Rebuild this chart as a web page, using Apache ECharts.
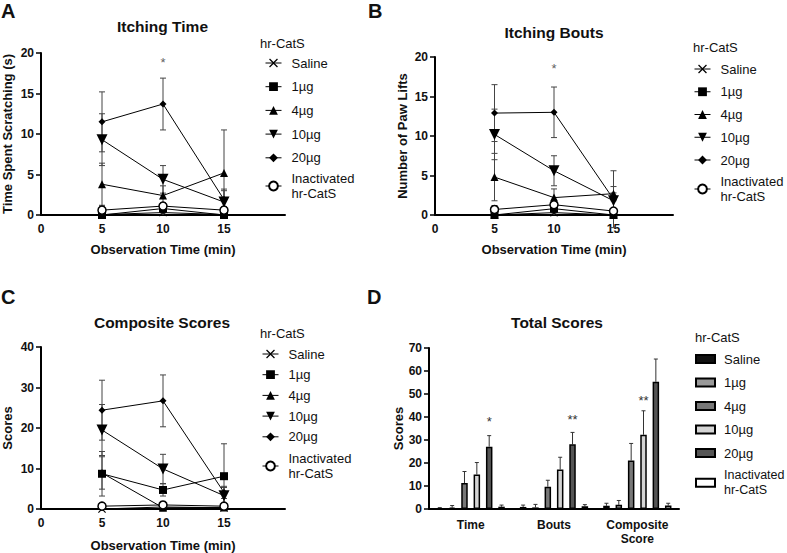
<!DOCTYPE html>
<html>
<head>
<meta charset="utf-8">
<title>hr-CatS itch scores</title>
<script src="https://cdn.jsdelivr.net/npm/echarts@6/dist/echarts.min.js"></script>
<style>
  html, body { margin: 0; padding: 0; background: #fff; }
  #chart { width: 787px; height: 553px; }
</style>
</head>
<body>
<div id="chart"></div>
<script>
// observation time points (min) and groups
const times = [5, 10, 15]
const groups = ['Saline', '1µg', '4µg', '10µg', '20µg', 'Inactivated hr-CatS']

// A - itching time (s), one row per group
const timeMeans = [
  [0.05, 0.3, 0.05],
  [0, 0.8, 0],
  [3.8, 2.4, 5.2],
  [9.3, 4.4, 1.6],
  [11.5, 13.7, 1.9],
  [0.6, 1.1, 0.6]
]
const timeSems = [
  [0.05, 0.2, 0.05],
  [0, 0.5, 0],
  [2.6, 1.2, 5.3],
  [3.2, 1.7, 1.4],
  [3.7, 3.2, 1.3],
  [0.5, 0.4, 0.4]
]

// B - itching bouts (paw lifts)
const boutMeans = [
  [0, 0.3, 0],
  [0, 0.8, 0],
  [4.8, 2.2, 2.7],
  [10.2, 5.6, 1.8],
  [12.9, 13.0, 2.0],
  [0.7, 1.3, 0.5]
]
const boutSems = [
  [0, 0.2, 0],
  [0, 0.4, 0],
  [3.0, 1.1, 0.9],
  [3.2, 1.9, 1.0],
  [3.6, 3.2, 3.6],
  [0.5, 0.4, 0.3]
]

// C - composite scores
const compMeans = [
  [0, 0.5, 0.3],
  [8.7, 4.7, 8.1],
  [8.9, 0.3, 0.4],
  [19.5, 9.9, 3.3],
  [24.4, 26.7, 4.1],
  [0.7, 1.0, 0.7]
]
const compSems = [
  [0, 0.3, 0.2],
  [5.5, 1.5, 8.0],
  [4.0, 0.3, 0.3],
  [6.3, 3.6, 2.0],
  [7.4, 6.4, 1.5],
  [0.4, 0.5, 0.4]
]

// D - total scores, one row per group: [Time, Bouts, Composite]
const totalCats = ['Time', 'Bouts', 'Composite\nScore']
const totalMeans = [
  [0.3, 0.9, 1.4],
  [0.6, 0.7, 1.8],
  [11.3, 9.7, 21.1],
  [15.0, 17.2, 32.3],
  [27.1, 28.1, 55.3],
  [1.0, 1.2, 1.5]
]
const totalErrs = [
  [0.3, 0.8, 1.1],
  [0.9, 1.3, 1.9],
  [5.0, 2.8, 7.4],
  [5.2, 5.3, 10.4],
  [4.8, 5.2, 9.9],
  [0.7, 0.7, 1.0]
]

// significance marks
const sigTime = [[10, 18.8]]
const sigBouts = [[10, 18.5]]
const sigTotal = [[0, 4, 38.2, '*'], [1, 4, 39, '**'], [2, 3, 47.2, '**']]

const FONT = 'Liberation Sans, Arial, sans-serif'
const INK = '#111'
const MARK = [
  { symbol: 'path://M0,1L1,0L5,4L9,0L10,1L6,5L10,9L9,10L5,6L1,10L0,9L4,5Z', size: 8, rotate: 0, fill: '#000' },
  { symbol: 'rect', size: 8, rotate: 0, fill: '#000' },
  { symbol: 'triangle', size: 8, rotate: 0, fill: '#000' },
  { symbol: 'triangle', size: 11, rotate: 180, fill: '#000' },
  { symbol: 'diamond', size: 7, rotate: 0, fill: '#000' },
  { symbol: 'circle', size: 8, rotate: 0, fill: '#fff' }
]
const barColors = ['#111', '#999', '#777', '#d4d4d4', '#555', '#fff']
const BAR_W = 6.5
const SLOT = BAR_W * 1.9

const chart = echarts.init(document.getElementById('chart'), null, { renderer: 'svg' })

function lineSeries(means, idx) {
  return means.map((row, g) => ({
    type: 'line',
    name: groups[g],
    xAxisIndex: idx,
    yAxisIndex: idx,
    data: times.map((t, i) => [t, row[i]]),
    symbol: MARK[g].symbol,
    symbolSize: MARK[g].size,
    symbolRotate: MARK[g].rotate,
    showAllSymbol: true,
    lineStyle: { color: '#000', width: 1 },
    itemStyle: { color: MARK[g].fill, borderColor: '#000', borderWidth: g === 5 ? 1.5 : 0 },
    z: 3
  }))
}

function errSeries(means, sems, idx) {
  const data = []
  means.forEach((row, g) => row.forEach((m, i) => data.push([times[i], m, sems[g][i]])))
  return {
    type: 'custom',
    xAxisIndex: idx,
    yAxisIndex: idx,
    z: 1,
    silent: true,
    data,
    encode: { x: 0, y: 1 },
    renderItem: (params, api) => {
      const x = api.value(0), m = api.value(1), e = api.value(2)
      if (!e) return
      const hi = api.coord([x, m + e]), lo = api.coord([x, m - e])
      const st = { stroke: '#444', lineWidth: 1 }
      return {
        type: 'group',
        children: [
          { type: 'line', shape: { x1: hi[0], y1: hi[1], x2: lo[0], y2: lo[1] }, style: st },
          { type: 'line', shape: { x1: hi[0] - 3, y1: hi[1], x2: hi[0] + 3, y2: hi[1] }, style: st },
          { type: 'line', shape: { x1: lo[0] - 3, y1: lo[1], x2: lo[0] + 3, y2: lo[1] }, style: st }
        ]
      }
    }
  }
}

function starSeries(points, idx) {
  return {
    type: 'scatter',
    xAxisIndex: idx,
    yAxisIndex: idx,
    data: points,
    symbolSize: 1,
    silent: true,
    itemStyle: { color: 'rgba(0,0,0,0)' },
    label: { show: true, position: 'inside', formatter: '*', color: '#333', fontSize: 13, fontFamily: FONT }
  }
}

function timeXAxis(idx) {
  return {
    gridIndex: idx,
    type: 'value',
    min: 0, max: 20, interval: 5,
    name: 'Observation Time (min)',
    nameLocation: 'middle',
    nameGap: idx === 2 ? 30 : 28,
    nameTextStyle: { fontSize: 13, fontWeight: 'bold', color: INK, fontFamily: FONT },
    axisLine: { lineStyle: { color: '#000', width: 2 } },
    axisTick: { show: false },
    axisLabel: { fontSize: 12, fontWeight: 'bold', color: INK, margin: 8, formatter: v => (v === 20 ? '' : v) },
    splitLine: { show: false }
  }
}

function valueYAxis(idx, max, interval, name, gap) {
  return {
    gridIndex: idx,
    type: 'value',
    min: 0, max, interval,
    name,
    nameLocation: 'middle',
    nameGap: gap,
    nameTextStyle: { fontSize: 13, fontWeight: 'bold', color: INK, fontFamily: FONT },
    axisLine: { show: true, lineStyle: { color: '#000', width: 2 } },
    axisTick: { show: true, length: 5, lineStyle: { color: '#000', width: 1.5 } },
    axisLabel: { fontSize: 12, fontWeight: 'bold', color: INK, margin: 7 },
    splitLine: { show: false }
  }
}

const legendBase = {
  orient: 'vertical',
  padding: 0,
  itemWidth: 16,
  itemHeight: 11,
  selectedMode: false,
  lineStyle: { width: 1 },
  textStyle: { fontSize: 13, lineHeight: 15, color: INK, fontFamily: FONT, padding: [0, 0, 0, 5] }
}

function lineLegends(left, top, gap, inactTop) {
  return [
    Object.assign({}, legendBase, { left, top, itemGap: gap, data: groups.slice(0, 5) }),
    Object.assign({}, legendBase, { left, top: inactTop, data: [groups[5]], formatter: n => n.replace(' ', '\n') })
  ]
}

const barLegendBase = Object.assign({}, legendBase, {
  itemWidth: 19,
  itemHeight: 8,
  textStyle: { fontSize: 13, lineHeight: 15, color: INK, fontFamily: FONT, padding: [0, 0, 0, 4] }
})
const barLegendItem = g => ({
  name: groups[g],
  icon: 'rect',
  itemStyle: { color: barColors[g], borderColor: '#000', borderWidth: 2 }
})

function heading(text, left, top, size, weight, align) {
  return {
    text, left, top,
    padding: 0,
    textAlign: align,
    textVerticalAlign: 'middle',
    textStyle: { fontSize: size, fontWeight: weight, color: INK, fontFamily: FONT }
  }
}

const barSeries = groups.map((name, g) => ({
  type: 'bar',
  name,
  xAxisIndex: 3,
  yAxisIndex: 3,
  data: totalMeans[g],
  barWidth: BAR_W,
  barGap: '90%',
  itemStyle: { color: barColors[g], borderColor: '#000', borderWidth: 1.5 },
  z: 2
}))

const barErr = {
  type: 'custom',
  xAxisIndex: 3,
  yAxisIndex: 3,
  z: 1,
  silent: true,
  data: groups.flatMap((n, g) => totalCats.map((c, i) => [i, totalMeans[g][i], totalErrs[g][i], g])),
  encode: { x: 0, y: 1 },
  renderItem: (params, api) => {
    const c = api.value(0), v = api.value(1), e = api.value(2), g = api.value(3)
    const dx = (g - 2.5) * SLOT
    const top = api.coord([c, v]), hi = api.coord([c, v + e])
    const st = { stroke: '#333', lineWidth: 1 }
    return {
      type: 'group',
      children: [
        { type: 'line', shape: { x1: top[0] + dx, y1: top[1], x2: hi[0] + dx, y2: hi[1] }, style: st },
        { type: 'line', shape: { x1: hi[0] + dx - 2, y1: hi[1], x2: hi[0] + dx + 2, y2: hi[1] }, style: st }
      ]
    }
  }
}

const barStars = {
  type: 'custom',
  xAxisIndex: 3,
  yAxisIndex: 3,
  z: 4,
  silent: true,
  data: sigTotal.map(s => [s[0], s[2], s[1]]),
  encode: { x: 0, y: 1 },
  renderItem: (params, api) => {
    const p = api.coord([api.value(0), api.value(1)])
    return {
      type: 'text',
      x: p[0] + (api.value(2) - 2.5) * SLOT,
      y: p[1],
      style: {
        text: sigTotal[params.dataIndex][3],
        fill: '#333',
        fontSize: 13,
        fontFamily: FONT,
        align: 'center',
        verticalAlign: 'middle'
      }
    }
  }
}

const option = {
  animation: false,
  backgroundColor: '#fff',
  textStyle: { fontFamily: FONT },
  title: [
    heading('A', 1, 11, 20, 'bold', 'left'),
    heading('B', 368, 11, 20, 'bold', 'left'),
    heading('C', 1, 297, 20, 'bold', 'left'),
    heading('D', 367, 297, 20, 'bold', 'left'),
    heading('Itching Time', 162.5, 26, 15.5, 'bold', 'center'),
    heading('Itching Bouts', 554, 32, 15.5, 'bold', 'center'),
    heading('Composite Scores', 162, 322, 15.5, 'bold', 'center'),
    heading('Total Scores', 557, 322, 15.5, 'bold', 'center'),
    heading('hr-CatS', 260, 43, 13, 'normal', 'left'),
    heading('hr-CatS', 693, 47, 13, 'normal', 'left'),
    heading('hr-CatS', 260, 333, 13, 'normal', 'left'),
    heading('hr-CatS', 695, 337, 13, 'normal', 'left')
  ],
  legend: [
    ...lineLegends(265, 55.5, 8.7, 171),
    ...lineLegends(694, 61.5, 7.75, 174),
    ...lineLegends(262, 346.5, 5.7, 451),
    Object.assign({}, barLegendBase, { left: 695, top: 351.5, itemGap: 8.5, data: [0, 1, 2, 3, 4].map(barLegendItem) }),
    Object.assign({}, barLegendBase, {
      left: 695, top: 467.7, data: [barLegendItem(5)], formatter: n => n.replace(' ', '\n'),
      textStyle: { fontSize: 12.5, lineHeight: 15, color: INK, fontFamily: FONT, padding: [0, 0, 0, 4] }
    })
  ],
  grid: [
    { left: 40, top: 53, width: 245, height: 162 },
    { left: 435, top: 57, width: 238, height: 158 },
    { left: 40, top: 347, width: 245, height: 162 },
    { left: 429, top: 348, width: 250, height: 161 }
  ],
  xAxis: [
    timeXAxis(0),
    timeXAxis(1),
    timeXAxis(2),
    {
      gridIndex: 3,
      type: 'category',
      data: totalCats,
      axisLine: { lineStyle: { color: '#000', width: 2 } },
      axisTick: { show: false },
      axisLabel: { fontSize: 12, fontWeight: 'bold', color: INK, margin: 9, lineHeight: 14, interval: 0 }
    }
  ],
  yAxis: [
    valueYAxis(0, 20, 5, 'Time Spent Scratching (s)', 27),
    valueYAxis(1, 20, 5, 'Number of Paw Lifts', 26),
    valueYAxis(2, 40, 10, 'Scores', 27),
    valueYAxis(3, 70, 10, 'Scores', 22)
  ],
  series: [
    ...lineSeries(timeMeans, 0),
    errSeries(timeMeans, timeSems, 0),
    starSeries(sigTime, 0),
    ...lineSeries(boutMeans, 1),
    errSeries(boutMeans, boutSems, 1),
    starSeries(sigBouts, 1),
    ...lineSeries(compMeans, 2),
    errSeries(compMeans, compSems, 2),
    ...barSeries,
    barErr,
    barStars
  ]
}

chart.setOption(option)
window.addEventListener('resize', () => chart.resize())
</script>
</body>
</html>
